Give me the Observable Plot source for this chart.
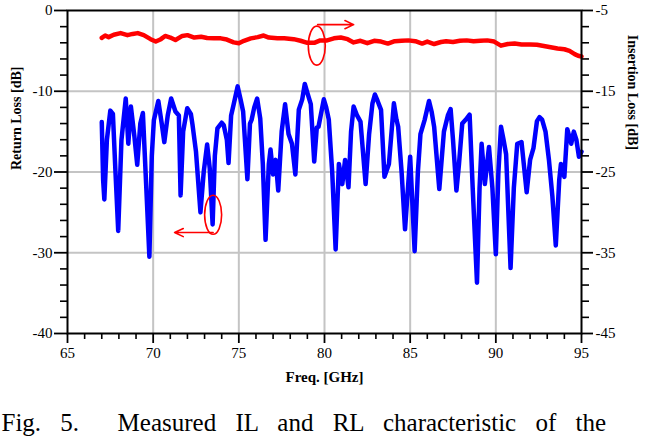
<!DOCTYPE html>
<html><head><meta charset="utf-8">
<script src="https://cdn.jsdelivr.net/npm/d3@7"></script>
<script src="https://cdn.jsdelivr.net/npm/@observablehq/plot@0.6"></script>
<style>body{margin:0;background:#fff;overflow:hidden}</style>
</head><body><div id="chart"></div>
<script>
// Return loss (left axis, dB)
const rlFreq = [67.0,67.08,67.15,67.3,67.5,67.65,67.8,67.96,68.15,68.4,68.55,68.7,68.9,69.07,69.25,69.4,69.6,69.78,69.92,70.04,70.3,70.5,70.65,70.85,71.05,71.3,71.5,71.6,71.75,71.99,72.2,72.3,72.5,72.76,72.95,73.15,73.3,73.47,73.6,73.75,74.0,74.12,74.3,74.4,74.55,74.7,74.93,75.1,75.25,75.5,75.65,75.75,75.9,76.07,76.25,76.4,76.56,76.75,76.85,77.0,77.15,77.3,77.5,77.7,77.9,78.1,78.3,78.5,78.7,78.85,79.0,79.2,79.4,79.55,79.65,79.96,80.1,80.25,80.45,80.65,80.84,81.04,81.2,81.4,81.55,81.7,81.9,82.1,82.4,82.6,82.8,82.94,83.1,83.3,83.5,83.76,84.05,84.2,84.3,84.5,84.7,85.0,85.26,85.45,85.6,85.85,86.1,86.25,86.4,86.7,86.97,87.2,87.36,87.5,87.7,87.85,88.04,88.25,88.47,88.65,88.9,89.05,89.17,89.36,89.6,89.8,90.0,90.15,90.3,90.45,90.6,90.86,91.05,91.25,91.5,91.8,92.0,92.2,92.4,92.55,92.7,92.9,93.1,93.3,93.5,93.7,93.8,94.0,94.17,94.4,94.55,94.7,94.85,95.0];
const rlValues = [-13.8,-21.0,-23.4,-16.0,-12.4,-12.8,-20.0,-27.3,-16.0,-10.9,-16.5,-11.9,-15.5,-19.1,-14.0,-12.7,-22.0,-30.5,-18.0,-13.6,-11.2,-14.0,-16.3,-13.0,-10.9,-12.5,-13.0,-22.9,-15.0,-12.1,-12.8,-14.2,-17.5,-25.0,-20.0,-16.6,-19.5,-26.5,-18.0,-14.6,-13.9,-14.2,-16.0,-18.9,-13.0,-11.6,-9.4,-11.0,-12.5,-20.9,-14.0,-13.5,-12.0,-10.9,-13.4,-19.0,-28.4,-19.0,-17.2,-20.3,-18.5,-22.3,-15.0,-11.6,-15.3,-16.5,-20.3,-12.3,-11.0,-9.1,-10.2,-11.6,-18.7,-14.5,-14.4,-11.0,-12.0,-13.5,-20.0,-29.6,-19.0,-21.5,-18.5,-21.9,-15.0,-11.9,-13.0,-13.75,-21.5,-15.4,-11.5,-10.4,-11.2,-12.3,-20.6,-19.0,-11.5,-13.5,-14.4,-20.0,-27.1,-18.1,-29.8,-20.0,-15.3,-13.5,-11.2,-12.5,-14.4,-22.1,-15.0,-13.0,-12.2,-16.0,-22.3,-19.0,-14.0,-13.5,-12.9,-22.0,-33.7,-22.0,-16.5,-21.5,-16.9,-22.0,-30.2,-20.0,-14.4,-16.0,-17.8,-31.9,-22.0,-16.5,-16.3,-22.5,-18.5,-17.0,-13.7,-13.2,-13.5,-15.0,-18.5,-23.0,-29.1,-21.0,-19.0,-20.6,-14.7,-16.5,-15.0,-16.0,-18.1,-17.5];

// Insertion loss (right axis, dB)
const ilFreq = [67.0,67.2,67.4,67.7,68.1,68.5,68.8,69.1,69.45,69.85,70.15,70.45,70.7,71.0,71.3,71.7,72.0,72.4,72.8,73.15,73.55,73.95,74.3,74.7,75.0,75.3,75.7,76.1,76.45,76.75,77.25,77.65,78.2,78.6,79.0,79.4,79.75,80.15,80.55,80.95,81.35,81.7,82.1,82.5,82.9,83.3,83.7,84.1,84.5,84.9,85.3,85.7,86.0,86.4,86.8,87.1,87.5,87.9,88.3,88.7,89.1,89.5,89.9,90.3,90.7,91.1,91.5,92.0,92.4,92.8,93.2,93.6,94.0,94.3,94.6,94.8,95.0];
const ilValues = [-8.4,-8.1,-8.3,-8.0,-7.8,-8.05,-7.9,-7.8,-8.05,-8.55,-8.85,-8.55,-8.15,-8.35,-8.65,-8.15,-8.05,-8.35,-8.25,-8.4,-8.45,-8.45,-8.6,-8.95,-9.05,-8.75,-8.45,-8.3,-8.1,-8.35,-8.45,-8.45,-8.55,-8.75,-9.0,-9.0,-8.7,-8.7,-8.45,-8.35,-8.55,-8.95,-8.75,-9.05,-8.75,-8.85,-9.1,-8.8,-8.75,-8.7,-8.8,-9.1,-8.85,-9.15,-8.9,-8.8,-8.9,-8.75,-8.7,-8.8,-8.75,-8.7,-8.85,-9.35,-9.15,-9.1,-9.2,-9.2,-9.25,-9.4,-9.55,-9.7,-9.8,-10.0,-10.4,-10.6,-10.7];

// Axes
const xMajorTicks = [65,70,75,80,85,90,95];
const xMinorTicks = [66,67,68,69,71,72,73,74,76,77,78,79,81,82,83,84,86,87,88,89,91,92,93,94];
const leftMajorTicks = [0,-10,-20,-30,-40];
const leftMinorTicks = [-2,-4,-6,-8,-12,-14,-16,-18,-22,-24,-26,-28,-32,-34,-36,-38];
const rightMajorTicks = [-5,-15,-25,-35,-45];
const rightMinorTicks = [-7,-9,-11,-13,-17,-19,-21,-23,-27,-29,-31,-33,-37,-39,-41,-43];
const gridX = [70,75,80,85,90];
const gridY = [-10,-20,-30];

// Annotations: ellipse centres [freq, left-axis dB] and arrows
const ellipseCentres = [[79.55,-4.35],[73.5,-25.3]];
const arrowStarts = [[79.6,-1.75],[73.5,-27.5]];
const arrowEnds = [[81.7,-1.75],[71.25,-27.5]];

const xLabel = "Freq. [GHz]";
const leftLabel = "Return Loss [dB]";
const rightLabel = "Insertion Loss [dB]";
const caption = "Fig. 5.  Measured IL and RL characteristic of the";

const IL_OFFSET = 5; // right axis value -5 sits at left axis value 0
const rl = rlFreq.map((f, i) => ({f, v: rlValues[i]}));
const il = ilFreq.map((f, i) => ({f, v: ilValues[i] + IL_OFFSET}));
const ell = ellipseCentres.map(([f, v]) => ({f, v}));
const arr = arrowStarts.map((s, i) => ({x1: s[0], y1: s[1], x2: arrowEnds[i][0], y2: arrowEnds[i][1]}));

const ellipseSymbol = (rx, ry) => ({
  draw(ctx) {
    const k = 0.5523;
    ctx.moveTo(rx, 0);
    ctx.bezierCurveTo(rx, ry * k, rx * k, ry, 0, ry);
    ctx.bezierCurveTo(-rx * k, ry, -rx, ry * k, -rx, 0);
    ctx.bezierCurveTo(-rx, -ry * k, -rx * k, -ry, 0, -ry);
    ctx.bezierCurveTo(rx * k, -ry, rx, -ry * k, rx, 0);
    ctx.closePath();
  }
});

const fmt = d => String(d);
const font = "Liberation Serif, Times New Roman, serif";

const chart = Plot.plot({
  width: 647,
  height: 439,
  marginTop: 10,
  marginBottom: 106,
  marginLeft: 67,
  marginRight: 66,
  x: {domain: [65, 95], label: null},
  y: {domain: [-40, 0], label: null},
  style: {fontFamily: font, fontSize: "15px", color: "#000", background: "#fff"},
  marks: [
    Plot.gridX(gridX, {stroke: "#c4c4c4", strokeOpacity: 1, strokeWidth: 2}),
    Plot.gridY(gridY, {stroke: "#c4c4c4", strokeOpacity: 1, strokeWidth: 2}),
    Plot.line(il, {x: "f", y: "v", stroke: "#ff0000", strokeWidth: 4.5, curve: "linear"}),
    Plot.line(rl, {x: "f", y: "v", stroke: "#0000ff", strokeWidth: 4.5, strokeLinejoin: "round"}),
    Plot.dot(ell, {x: "f", y: "v", symbol: ellipseSymbol(8.5, 19.5), stroke: "#ff0000", strokeWidth: 1.6, fill: "none", r: 10}),
    Plot.arrow(arr, {x1: "x1", y1: "y1", x2: "x2", y2: "y2", stroke: "#ff0000", strokeWidth: 1.6, headLength: 9, headAngle: 50}),
    Plot.frame({stroke: "#000", strokeWidth: 2}),
    // bottom axis
    Plot.axisX(xMajorTicks, {anchor: "bottom", tickSize: 10, tickPadding: 4, tickFormat: fmt, label: null, strokeWidth: 1.8, fontSize: 15}),
    Plot.axisX(xMinorTicks, {anchor: "bottom", tickSize: 6, tickFormat: () => "", label: null, strokeWidth: 1.6}),
    // left axis
    Plot.axisY(leftMajorTicks, {anchor: "left", tickSize: 13, tickPadding: 2, tickFormat: fmt, label: null, strokeWidth: 1.8, fontSize: 15}),
    Plot.axisY(leftMinorTicks, {anchor: "left", tickSize: 7, tickFormat: () => "", label: null, strokeWidth: 1.6}),
    // right axis (insertion loss)
    Plot.axisY(rightMajorTicks.map(v => v + IL_OFFSET), {anchor: "right", tickSize: 11, tickPadding: 3, tickFormat: d => String(d - IL_OFFSET), label: null, strokeWidth: 1.8, fontSize: 15}),
    Plot.axisY(rightMinorTicks.map(v => v + IL_OFFSET), {anchor: "right", tickSize: 7, tickFormat: () => "", label: null, strokeWidth: 1.6}),
    // axis titles
    Plot.text([xLabel], {frameAnchor: "bottom", dy: 48, fontWeight: "bold", fontSize: 15}),
    Plot.text([leftLabel], {frameAnchor: "left", dx: -51, dy: -2, rotate: -90, fontWeight: "bold", fontSize: 14}),
    Plot.text([rightLabel], {frameAnchor: "right", dx: 51, dy: -22, rotate: 90, fontWeight: "bold", fontSize: 14}),
    // caption
    Plot.text([caption], {frameAnchor: "bottom-left", dx: -66, dy: 97, textAnchor: "start", fontSize: 25})
  ]
});

d3.select(chart).selectAll("text").filter(function () { return this.textContent === caption; })
  .style("word-spacing", "13px");
document.getElementById("chart").appendChild(chart);
</script>
</body></html>
